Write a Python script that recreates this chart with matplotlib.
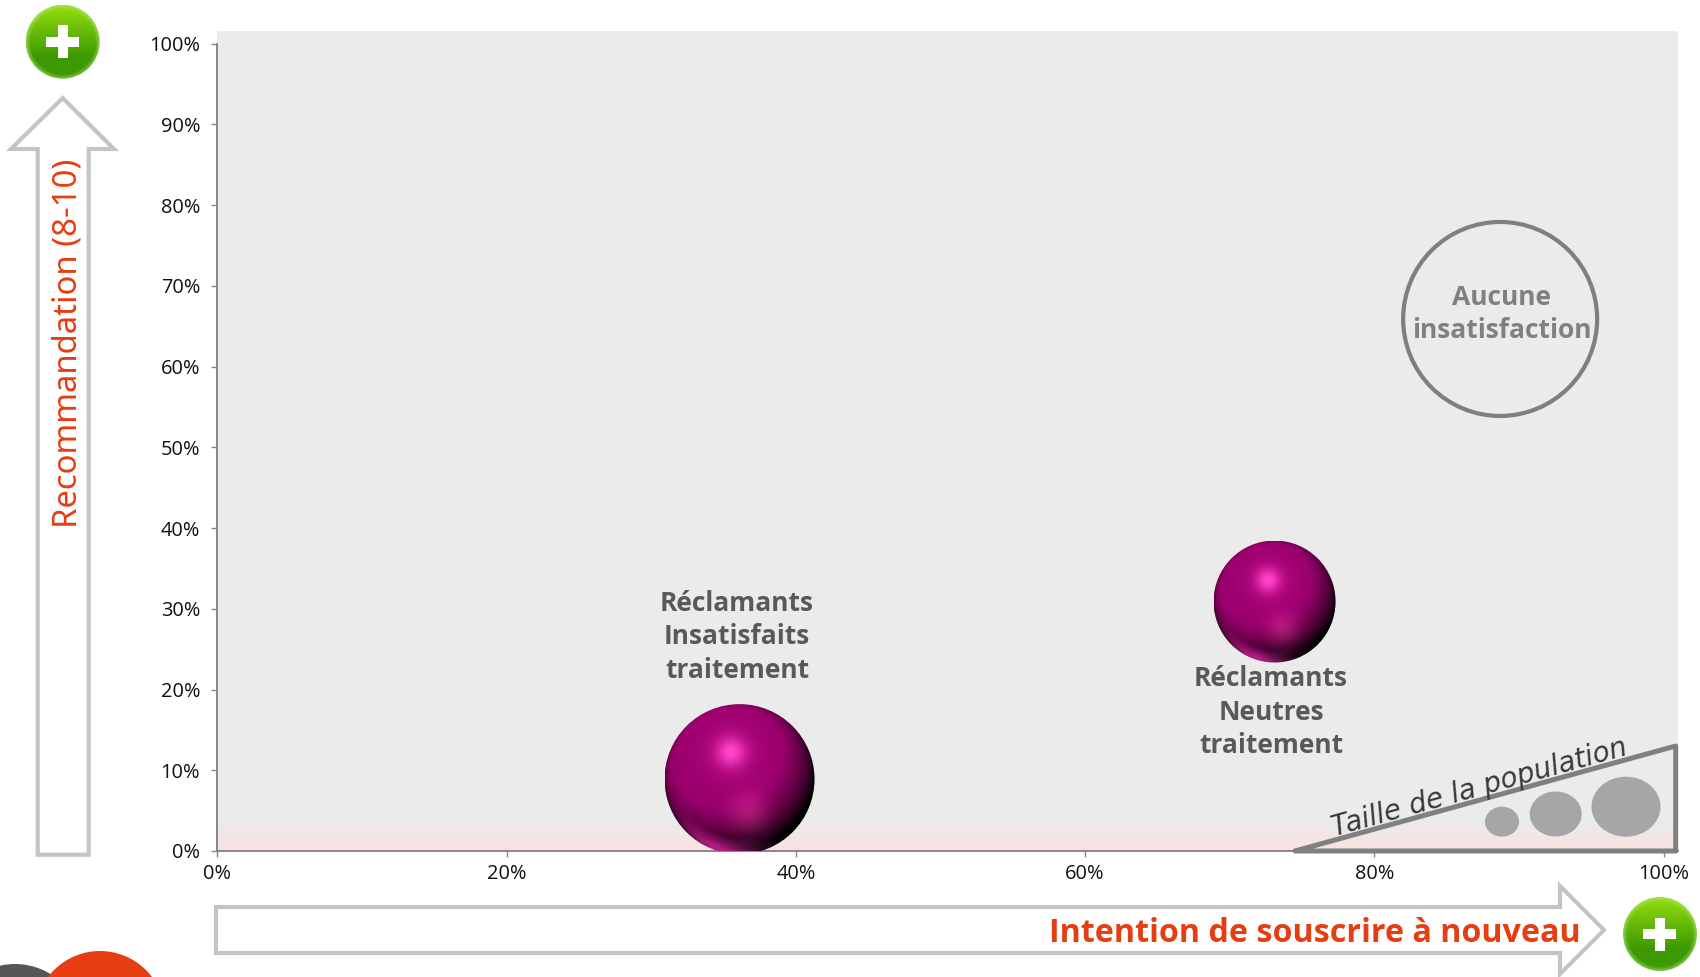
import numpy as np
import matplotlib
matplotlib.use("Agg")
import matplotlib.pyplot as plt
from matplotlib.patches import Circle, Ellipse, Polygon, Rectangle

# data
x_ticks = [0, 20, 40, 60, 80, 100]
y_ticks = [0, 10, 20, 30, 40, 50, 60, 70, 80, 90, 100]
segments_x = [36.1, 73.1]
segments_y = [8.9, 30.9]
segments_r = [75, 61]
segments_labels = ["Réclamants\nInsatisfaits\ntraitement", "Réclamants\nNeutres\ntraitement"]
empty_x = [88.7]
empty_y = [65.9]
empty_label = "Aucune\ninsatisfaction"

RED = "#e63d12"
ARROW = "#c4c4c4"
W, H = 1700, 977


def sphere_image(n=300):
    v, u = np.mgrid[-1:1:n * 1j, -1:1:n * 1j]
    rr = np.clip(u ** 2 + v ** 2, 0, 1)
    z = np.sqrt(1 - rr)
    nl = -0.25 * u - 0.45 * v + 0.86 * z
    shade = np.clip(1.3 * (nl + 0.1), 0, 1) ** 0.9
    base = np.array([0.6, 0.0, 0.42])
    img = base[None, None, :] * shade[..., None]
    spot1 = np.exp(-((u + 0.12) ** 2 + (v + 0.36) ** 2) / (2 * 0.14 ** 2))
    halo = np.exp(-((u + 0.12) ** 2 + (v + 0.36) ** 2) / (2 * 0.32 ** 2))
    spot2 = np.exp(-((u - 0.13) ** 2 + (v - 0.45) ** 2) / (2 * 0.18 ** 2))
    rim = np.exp(-((u + 0.3) ** 2 + (v - 0.95) ** 2) / (2 * 0.35 ** 2)) * np.clip((rr - 0.62) / 0.3, 0, 1)
    img = img + spot1[..., None] * np.array([0.32, 0.25, 0.3])
    img = img + halo[..., None] * np.array([0.1, 0.02, 0.08])
    img = img + spot2[..., None] * np.array([0.16, 0.1, 0.1])
    img = img + rim[..., None] * np.array([0.68, 0.12, 0.5])
    return np.clip(img, 0, 1)


def button_image(n=150):
    v, u = np.mgrid[-1:1:n * 1j, -1:1:n * 1j]
    t = np.clip((v + 0.9) / 1.3, 0, 1)[..., None]
    top = np.array([0.56, 0.85, 0.06])
    bottom = np.array([0.24, 0.6, 0.01])
    img = top * (1 - t) + bottom * t
    r = np.sqrt(u ** 2 + v ** 2)
    rim = np.clip((r - 0.88) / 0.12, 0, 1)[..., None]
    img = img * (1 - 0.55 * rim) + np.array([0.72, 0.9, 0.5]) * 0.55 * rim
    return img


fig = plt.figure(figsize=(W / 100, H / 100), dpi=100)
plt.rcParams["font.family"] = ["Open Sans", "DejaVu Sans"]

# main chart, 0-100 axes sit at x 217.5-1663.5 and y 851-43.5 pixels
ax = fig.add_axes([217.5 / W, 1 - 851 / H, 1460.5 / W, 820 / H])
ax.set_facecolor("#ebebeb")

grad = np.linspace(0, 1, 64)[:, None, None]
band = (1 - grad) * np.array([0.922, 0.922, 0.922]) + grad * np.array([0.985, 0.88, 0.88])
ax.imshow(band, extent=(0, 101, 0, 3.6), aspect="auto", zorder=1)

for x, y, r in zip(segments_x, segments_y, segments_r):
    rx = r * 101 / 1460.5
    ry = r * 101.57 / 820
    im = ax.imshow(sphere_image(), extent=(x - rx, x + rx, y - ry, y + ry), aspect="auto", zorder=3)
    clip = Ellipse((x, y), 2 * rx, 2 * ry, transform=ax.transData)
    im.set_clip_path(clip)

ax.scatter(empty_x, empty_y, s=(2 * 97 * 0.72) ** 2, facecolor="none", edgecolor="#7f7f7f", linewidth=3, zorder=3)

ax.set_xlim(0, 101)
ax.set_ylim(0, 101.57)
ax.set_xticks(x_ticks)
ax.set_xticklabels([f"{v}%" for v in x_ticks])
ax.set_yticks(y_ticks)
ax.set_yticklabels([f"{v}%" for v in y_ticks])
ax.tick_params(axis="both", length=4.5, width=1, color="#868686", labelsize=14.4, labelcolor="#111111")
ax.tick_params(axis="x", pad=5)
ax.tick_params(axis="y", pad=8)
for side in ["top", "right"]:
    ax.spines[side].set_visible(False)
ax.spines["left"].set_bounds(0, 100)
for side in ["left", "bottom"]:
    ax.spines[side].set_color("#868686")
    ax.spines[side].set_linewidth(1.4)
    ax.spines[side].set_zorder(2)

# annotations are placed in pixels on a transparent overlay
ov = fig.add_axes([0, 0, 1, 1], zorder=5)
ov.patch.set_alpha(0)
ov.axis("off")

up_arrow = [(37.7, 854.7), (37.7, 149), (11, 149), (62.7, 98), (114, 149), (88.7, 149), (88.7, 854.7)]
ov.add_patch(Polygon(up_arrow, closed=True, fill=False, edgecolor=ARROW, linewidth=3, joinstyle="miter"))
right_arrow = [(216, 907), (1560, 907), (1560, 886), (1604, 930), (1560, 974), (1560, 953), (216, 953)]
ov.add_patch(Polygon(right_arrow, closed=True, fill=False, edgecolor=ARROW, linewidth=3, joinstyle="miter"))

for cx, cy in [(62.7, 41.7), (1660, 934)]:
    im = ov.imshow(button_image(), extent=(cx - 37, cx + 37, cy + 37, cy - 37), aspect="auto")
    im.set_clip_path(Circle((cx, cy), 37, transform=ov.transData))
    ov.add_patch(Rectangle((cx - 16.5, cy - 5), 33, 10, facecolor="white", edgecolor="none"))
    ov.add_patch(Rectangle((cx - 5, cy - 16.5), 10, 33, facecolor="white", edgecolor="none"))

ov.add_patch(Circle((15, 1032), 68, facecolor="#565656", edgecolor="none"))
ov.add_patch(Circle((100, 1016), 65, facecolor=RED, edgecolor="none"))

# population legend
ov.add_patch(Polygon([(1295, 851), (1675.7, 851), (1675.7, 746)], closed=True, fill=False,
                     edgecolor="#808080", linewidth=3.6, joinstyle="round"))
for cx, cy, rx, ry in [(1502, 821.7, 17, 15), (1555.7, 814, 26, 22.5), (1626, 806.7, 34.5, 30)]:
    ov.add_patch(Ellipse((cx, cy), 2 * rx, 2 * ry, facecolor="#a6a6a6", edgecolor="none"))

ov.text(1479, 788, "Taille de la population", rotation=15.5, rotation_mode="anchor", ha="center", va="center",
        fontsize=20, style="italic", color="#383838", family=["DejaVu Sans"])

label_pos = [(737, 637), (1271, 712)]
for (px, py), label in zip(label_pos, segments_labels):
    ov.text(px, py, label, ha="center", va="center", fontsize=19, fontweight="bold", color="#595959",
            linespacing=1.29, family=["Open Sans", "DejaVu Sans"])
ov.text(1502, 314, empty_label, ha="center", va="center", fontsize=19, fontweight="bold", color="#808080",
        linespacing=1.29, family=["Open Sans", "DejaVu Sans"])

ov.text(1581, 934, "Intention de souscrire à nouveau", ha="right", va="center", fontsize=23.2, fontweight="bold",
        color=RED, family=["Open Sans", "DejaVu Sans"])
ov.text(68, 343, "Recommandation (8-10)", rotation=90, ha="center", va="center", fontsize=23.7, color=RED,
        family=["Noto Sans", "DejaVu Sans"])

ov.set_xlim(0, W)
ov.set_ylim(H, 0)

fig.savefig("out.png", dpi=100)
